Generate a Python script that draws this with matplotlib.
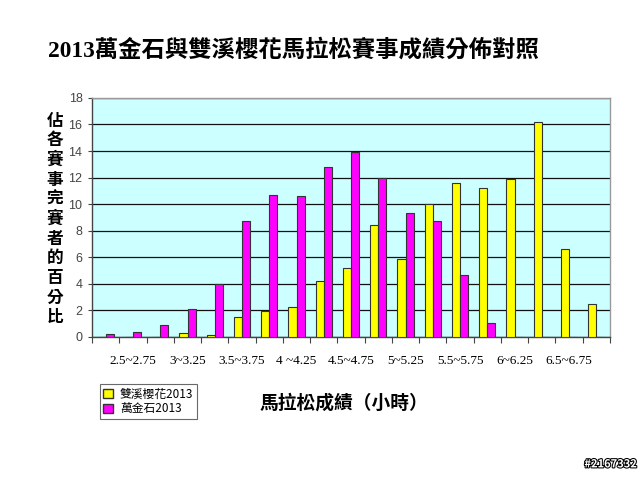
import numpy as np
from matplotlib import pyplot as plt
from matplotlib.patches import Patch
import matplotlib.patheffects as pe

plt.rcParams['font.family'] = ['Noto Sans CJK TC', 'DejaVu Sans']

# marathon finish time bins (hours), 0.25 h wide
categories = ['2.25~2.5', '2.5~2.75', '2.75~3', '3~3.25', '3.25~3.5', '3.5~3.75',
              '3.75~4', '4 ~4.25', '4.25~4.5', '4.5~4.75', '4.75~5', '5~5.25',
              '5.25~5.5', '5.5~5.75', '5.75~6', '6~6.25', '6.25~6.5', '6.5~6.75',
              '6.75~7']
# percent of finishers per bin
shuangxi = [0, 0, 0, 0.3, 0.13, 1.5, 1.96, 2.24, 4.2, 5.2, 8.45, 5.85,
            10.0, 11.6, 11.2, 11.9, 16.2, 6.6, 2.46]
wanjinshi = [0.2, 0.35, 0.9, 2.1, 4.0, 8.7, 10.7, 10.6, 12.8, 13.9, 11.96, 9.3,
             8.75, 4.7, 1.05, 0, 0, 0, 0]
series_names = ['雙溪櫻花2013', '萬金石2013']

serif_cjk = ['Liberation Serif', 'Noto Sans CJK TC']

fig = plt.figure(figsize=(6.4, 4.8), dpi=100)
ax = fig.add_axes([0.144, 0.298, 0.809, 0.498])
ax.set_facecolor('#ccffff')

x = np.arange(len(categories))
w = 0.3
ax.bar(x - w / 2, shuangxi, w, color='#ffff00', edgecolor='#333333', linewidth=0.8, zorder=3)
ax.bar(x + w / 2, wanjinshi, w, color='#ff00ff', edgecolor='#333333', linewidth=0.8, zorder=3)

ax.set_xlim(-0.5, len(categories) - 0.5)
ax.set_ylim(0, 18)
ax.set_yticks(np.arange(0, 19, 2))
ax.yaxis.grid(True, color='#111111', linewidth=0.9, zorder=1)
ax.set_axisbelow(True)
ax.tick_params(axis='y', length=3, width=0.8, color='#444444', labelsize=9,
               labelcolor='#444444', pad=4)
for lbl in ax.get_yticklabels():
    lbl.set_family('Liberation Sans')

# labels on every other bin, tick marks on bin edges
ax.set_xticks(x[1::2])
ax.set_xticklabels([categories[i] for i in x[1::2]], family='Liberation Serif', fontsize=9.5)
ax.tick_params(axis='x', which='major', length=0, pad=13)
ax.set_xticks(np.arange(-0.5, len(categories), 1), minor=True)
ax.tick_params(axis='x', which='minor', length=4, width=0.8, color='#444444', direction='out')

for side in ['left', 'bottom']:
    ax.spines[side].set_color('#444444')
    ax.spines[side].set_linewidth(1.0)
for side in ['top', 'right']:
    ax.spines[side].set_color('#999999')
    ax.spines[side].set_linewidth(1.0)

fig.text(0.459, 0.895, '2013萬金石與雙溪櫻花馬拉松賽事成績分佈對照', ha='center', va='center',
         fontsize=16.8, fontweight='bold', family=serif_cjk)
fig.text(0.086, 0.544, '\n'.join('佔各賽事完賽者的百分比'),
         ha='center', va='center', fontsize=12, fontweight='bold', linespacing=1.12)
fig.text(0.538, 0.16, '馬拉松成績（小時）', ha='center', va='center',
         fontsize=13.5, fontweight='bold')

handles = [Patch(facecolor='#ffff00', edgecolor='#333333'),
           Patch(facecolor='#ff00ff', edgecolor='#333333')]
leg = fig.legend(handles, series_names, loc='upper left', bbox_to_anchor=(0.156, 0.2),
                 prop={'family': ['Noto Sans CJK TC'], 'size': 8.5}, frameon=True,
                 fancybox=False, edgecolor='#444444', handlelength=0.8, handleheight=0.8,
                 handletextpad=0.6, borderpad=0.3, labelspacing=0.15, borderaxespad=0)
leg.get_frame().set_linewidth(0.8)

fig.text(0.995, 0.02, '#2167332', ha='right', va='bottom', fontsize=8, fontweight='bold',
         color='white', path_effects=[pe.withStroke(linewidth=1.5, foreground='black')])

fig.savefig('out.png', dpi=100)
